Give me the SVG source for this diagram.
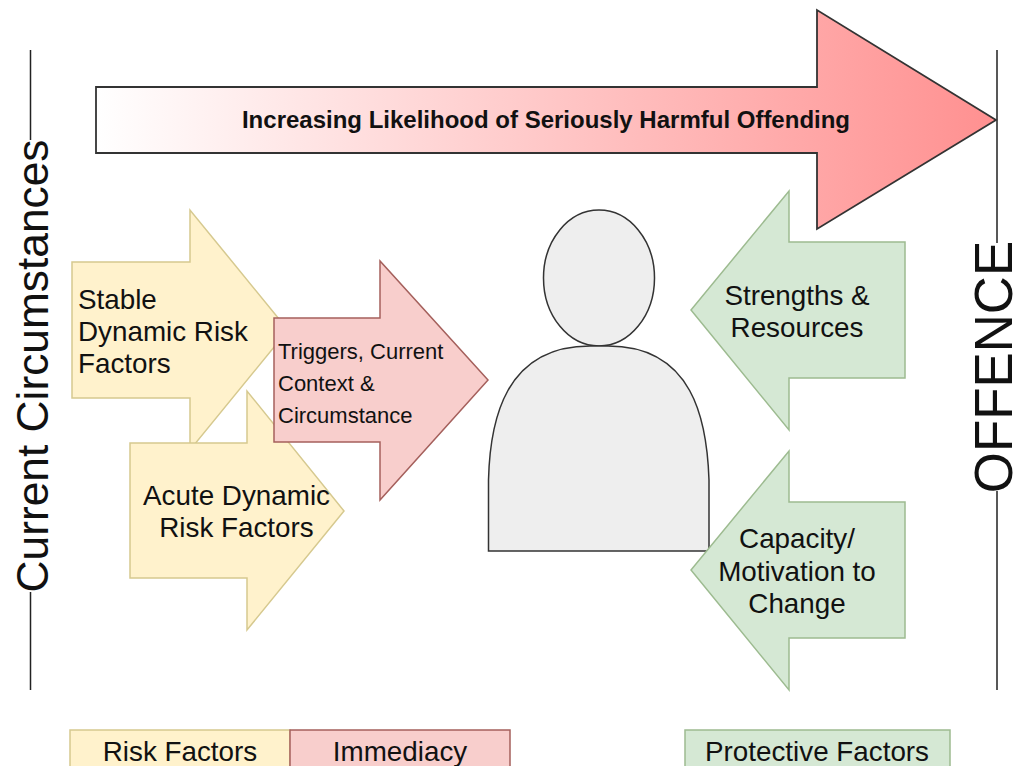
<svg xmlns="http://www.w3.org/2000/svg" width="1016" height="766" viewBox="0 0 1016 766">
<defs>
<linearGradient id="g"><stop offset="0" stop-color="#ffffff"/><stop offset="1" stop-color="#ff9090"/></linearGradient>
<style>
text{font-family:"Liberation Sans",Arial,sans-serif;fill:#111}
.y{fill:#fff2cc;stroke:#d6c98f;stroke-width:1.5}
.r{fill:#f8cecc;stroke:#a5605c;stroke-width:1.5}
.gr{fill:#d5e8d4;stroke:#9dbb90;stroke-width:1.5}
.l{stroke:#222;stroke-width:1.5;fill:none}
.t{font-size:27.800px}
.m{text-anchor:middle}
</style>
</defs>
<g id="connectors">
<path class="l" d="M30.500 50V140M30.500 592V690M997 50V243M997 491V690"/>
</g>
<g id="likelihood">
<path d="M96 87H817V10L996 120L817 229V153H96Z" fill="url(#g)" stroke="#333" stroke-width="1.8"/>
<text x="546" y="128" class="m" font-size="24" font-weight="bold">Increasing Likelihood of Seriously Harmful Offending</text>
</g>
<g id="stable">
<path class="y" d="M72 262H190V210L288 330L190 450V398H72Z"/>
<text class="t" x="78" y="309">Stable</text>
<text class="t" x="78" y="341">Dynamic Risk</text>
<text class="t" x="78" y="373">Factors</text>
</g>
<g id="acute">
<path class="y" d="M130 443H247V391L344 511L247 630V578H130Z"/>
<text class="t m" x="236.500" y="505">Acute Dynamic</text>
<text class="t m" x="236.500" y="537">Risk Factors</text>
</g>
<g id="triggers">
<path class="r" d="M274 318H380V261L488 380L380 500V442H274Z"/>
<text x="278" y="359" font-size="22">Triggers, Current</text>
<text x="278" y="391" font-size="22">Context &amp;</text>
<text x="278" y="423" font-size="22">Circumstance</text>
</g>
<g id="person">
<ellipse cx="599" cy="278" rx="55.500" ry="68" fill="#eeeeee" stroke="#333" stroke-width="1.500"/>
<path d="M488.500 551V480C490 420 505 346 590 346H608C693 346 707 420 709 480V551Z" fill="#eeeeee" stroke="#333" stroke-width="1.500"/>
</g>
<g id="strengths">
<path class="gr" d="M905 242H789V191L691 310L789 430V378H905Z"/>
<text class="t m" x="797" y="305">Strengths &amp;</text>
<text class="t m" x="797" y="337">Resources</text>
</g>
<g id="capacity">
<path class="gr" d="M905 502H789V451L691 570L789 690V638H905Z"/>
<text class="t m" x="797" y="548">Capacity/</text>
<text class="t m" x="797" y="581">Motivation to</text>
<text class="t m" x="797" y="613">Change</text>
</g>
<g id="current-circumstances">
<text transform="translate(48 366) rotate(-90)" class="m" font-size="44.300">Current Circumstances</text>
</g>
<g id="offence">
<text transform="translate(1012 367) rotate(-90)" class="m" font-size="52.800">OFFENCE</text>
</g>
<g id="legend-risk">
<rect class="y" x="70" y="730" width="220" height="40"/>
<text class="t m" x="180" y="761">Risk Factors</text>
</g>
<g id="legend-immediacy">
<rect class="r" x="290" y="730" width="220" height="40"/>
<text class="t m" x="400" y="761">Immediacy</text>
</g>
<g id="legend-protective">
<rect class="gr" x="685" y="730" width="265" height="40"/>
<text class="t m" x="817" y="761">Protective Factors</text>
</g>
</svg>
